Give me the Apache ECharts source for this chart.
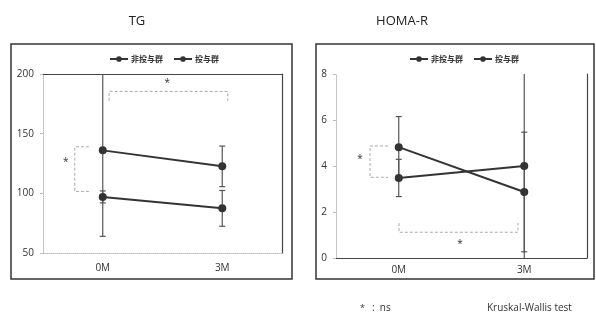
<!DOCTYPE html>
<html>
<head>
<meta charset="utf-8">
<script src="https://cdn.jsdelivr.net/npm/echarts@6/dist/echarts.min.js"></script>
<style>html,body{margin:0;padding:0;background:#fff;}#c{width:596px;height:320px;}</style>
</head>
<body>
<div id="c"></div>
<script>
// ---- data ----
const categories = ['0M', '3M'];
const seriesNames = ['非投与群', '投与群'];
const tgTicks = [50, 100, 150, 200];
const homaTicks = [0, 2, 4, 6, 8];
const tgNonDosed = [136, 122.6];
const tgNonDosedErr = [72, 17];
const tgDosed = [97, 87.4];
const tgDosedErr = [5, 15];
const homaNonDosed = [4.82, 2.87];
const homaNonDosedErr = [1.33, 2.6];
const homaDosed = [3.48, 4.0];
const homaDosedErr = [0.81, 4.5];

const FONT = '"Open Sans", "Noto Sans CJK JP", sans-serif';
const chart = echarts.init(document.getElementById('c'));

function errRender(yMin, yMax) {
  return function (params, api) {
    const xi = api.value(0), v = api.value(1), e = api.value(2);
    const hi = v + e, lo = v - e;
    const pHi = api.coord([xi, Math.min(hi, yMax)]);
    const pLo = api.coord([xi, Math.max(lo, yMin)]);
    const st = { stroke: '#555', lineWidth: 1.2 };
    const ch = [{ type: 'line', shape: { x1: pHi[0], y1: pHi[1], x2: pLo[0], y2: pLo[1] }, style: st }];
    if (hi <= yMax) ch.push({ type: 'line', shape: { x1: pHi[0] - 3, y1: pHi[1], x2: pHi[0] + 3, y2: pHi[1] }, style: st });
    if (lo >= yMin) ch.push({ type: 'line', shape: { x1: pLo[0] - 3, y1: pLo[1], x2: pLo[0] + 3, y2: pLo[1] }, style: st });
    return { type: 'group', children: ch };
  };
}
function errData(vals, errs) { return vals.map((v, i) => [i, v, errs[i]]); }

// bracket annotations: t = fractional position between categories
function bracketRender(spec) {
  return function (params, api) {
    const c0 = api.coord([0, spec.y0 !== undefined ? spec.y0 : 0]);
    const c1 = api.coord([1, 0]);
    const px = t => c0[0] + t * (c1[0] - c0[0]);
    const py = y => api.coord([0, y])[1];
    const ds = { stroke: '#aaa', lineWidth: 1, lineDash: [3, 2], fill: null };
    const ch = [];
    spec.lines.forEach(l => {
      ch.push({ type: 'polyline', shape: { points: l.map(p => [px(p[0]), py(p[1])]) }, style: ds });
    });
    spec.stars.forEach(s => {
      ch.push({ type: 'text', style: { text: '*', x: px(s[0]), y: py(s[1]), fill: '#333', font: '10px ' + FONT, align: 'center', verticalAlign: 'middle' } });
    });
    return { type: 'group', children: ch };
  };
}

const tgBr = {
  lines: [
    [[0.053, 177.5], [0.053, 185.4], [1.046, 185.4], [1.046, 177.5]],
    [[-0.116, 139], [-0.234, 139], [-0.234, 101.6], [-0.116, 101.6]]
  ],
  stars: [[0.54, 192.5], [-0.31, 126]]
};
const homaBr = {
  lines: [
    [[-0.086, 4.87], [-0.229, 4.87], [-0.229, 3.51], [-0.086, 3.51]],
    [[0.002, 1.52], [0.002, 1.12], [0.95, 1.12], [0.95, 1.52]]
  ],
  stars: [[-0.309, 4.31], [0.488, 0.61]]
};

const lineStyle = { color: '#333', width: 2 };
function lineSeries(name, data, gi) {
  return {
    name: name, type: 'line', data: data, xAxisIndex: gi * 2, yAxisIndex: gi * 2,
    symbol: 'circle', symbolSize: 8, lineStyle: lineStyle,
    itemStyle: { color: '#333' }, z: 5, animation: false
  };
}
function errSeries(vals, errs, gi, mn, mx) {
  return {
    type: 'custom', xAxisIndex: gi * 2, yAxisIndex: gi * 2, data: errData(vals, errs),
    encode: { x: 0, y: 1 }, renderItem: errRender(mn, mx), z: 4, silent: true, animation: false
  };
}
function brSeries(spec, gi) {
  return {
    type: 'custom', xAxisIndex: gi * 2, yAxisIndex: gi * 2, data: [[0, 0]],
    encode: { x: 0, y: 1 }, renderItem: bracketRender(spec), z: 2, silent: true, animation: false
  };
}

function xAxes(gi, margin) {
  return [
    { type: 'category', gridIndex: gi, data: categories, position: 'bottom',
      axisLine: { lineStyle: { color: '#bbb', type: 'dotted' } },
      axisTick: { show: false },
      axisLabel: { color: '#333', fontSize: 10, fontFamily: FONT, margin: margin } },
    { type: 'category', gridIndex: gi, data: categories, position: 'top',
      axisLine: { lineStyle: { color: '#444', width: 1.2 } },
      axisTick: { show: false }, axisLabel: { show: false } }
  ];
}
function yAxes(gi, mn, mx, itv) {
  return [
    { type: 'value', gridIndex: gi, min: mn, max: mx, interval: itv, position: 'left',
      axisLine: { show: true, lineStyle: { color: '#bbb', type: 'dotted' } },
      axisTick: { show: true, length: 3, lineStyle: { color: '#bbb' } },
      splitLine: { show: false },
      axisLabel: { color: '#333', fontSize: 10, fontFamily: FONT, margin: 9 } },
    { type: 'value', gridIndex: gi, min: mn, max: mx, interval: itv, position: 'right',
      axisLine: { show: true, lineStyle: { color: '#444', width: 1.2 } },
      axisTick: { show: false }, splitLine: { show: false }, axisLabel: { show: false } }
  ];
}

const legendCommon = {
  data: seriesNames, itemWidth: 18, itemHeight: 7, itemGap: 10, icon: undefined,
  textStyle: { fontSize: 8, color: '#333', fontWeight: 'bold', fontFamily: '"Noto Sans CJK JP", sans-serif', padding: [0, 0, 0, -2] },
  selectedMode: false
};

chart.setOption({
  backgroundColor: '#fff',
  animation: false,
  title: [
    { text: 'TG', left: 132, top: 10, textAlign: 'center', textStyle: { fontSize: 13, fontWeight: 'normal', color: '#222', fontFamily: FONT } },
    { text: 'HOMA-R', left: 397, top: 10, textAlign: 'center', textStyle: { fontSize: 13, fontWeight: 'normal', color: '#222', fontFamily: FONT } }
  ],
  legend: [
    Object.assign({}, legendCommon, { left: 104, top: 50 }),
    Object.assign({}, legendCommon, { left: 404, top: 50 })
  ],
  grid: [
    { left: 43, top: 74, width: 239, height: 179 },
    { left: 336, top: 74, width: 251, height: 184 }
  ],
  xAxis: [].concat(xAxes(0, 10), xAxes(1, 7)),
  yAxis: [].concat(yAxes(0, 50, 200, 50), yAxes(1, 0, 8, 2)),
  series: [
    lineSeries(seriesNames[0], tgNonDosed, 0),
    lineSeries(seriesNames[1], tgDosed, 0),
    errSeries(tgNonDosed, tgNonDosedErr, 0, 50, 200),
    errSeries(tgDosed, tgDosedErr, 0, 50, 200),
    brSeries(tgBr, 0),
    lineSeries(seriesNames[0], homaNonDosed, 1),
    lineSeries(seriesNames[1], homaDosed, 1),
    errSeries(homaNonDosed, homaNonDosedErr, 1, 0, 8),
    errSeries(homaDosed, homaDosedErr, 1, 0, 8),
    brSeries(homaBr, 1)
  ],
  graphic: [
    { type: 'rect', shape: { x: 11, y: 44, width: 281, height: 235 }, style: { stroke: '#333', lineWidth: 1.5, fill: null }, silent: true },
    { type: 'rect', shape: { x: 316, y: 44, width: 278, height: 235 }, style: { stroke: '#333', lineWidth: 1.5, fill: null }, silent: true },
    { type: 'text', left: 360, top: 304, style: { text: '*', fill: '#333', font: '9px ' + FONT } },
    { type: 'text', left: 372, top: 303, style: { text: ':  ns', fill: '#333', font: '10px ' + FONT } },
    { type: 'text', left: 487, top: 303, style: { text: 'Kruskal-Wallis test', fill: '#333', font: '10px ' + FONT } }
  ]
});
</script>
</body>
</html>
